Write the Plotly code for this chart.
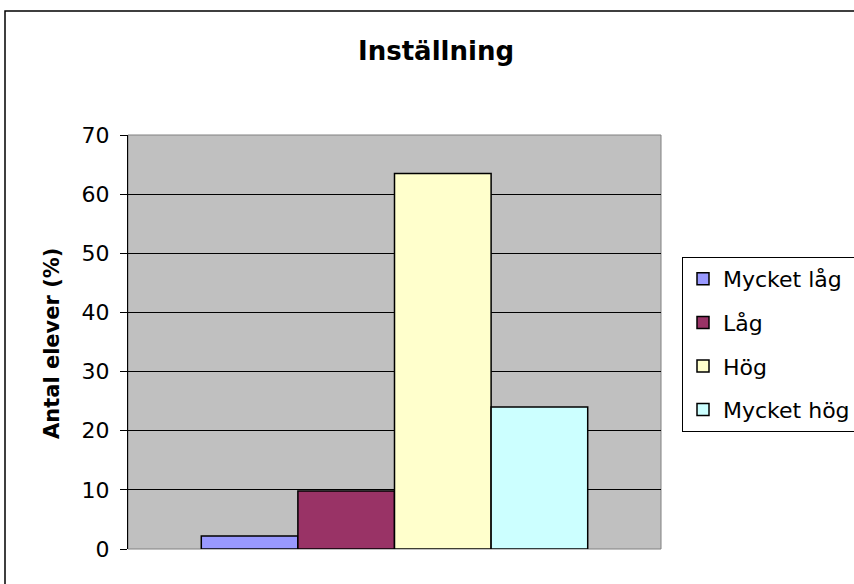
import plotly.graph_objects as go

# Attitude survey: share of pupils per level (%)
levels = ["Mycket låg", "Låg", "Hög", "Mycket hög"]
shares = [2.2, 9.8, 63.5, 24.0]
colors = ["#9999FF", "#993366", "#FFFFCC", "#CCFFFF"]
y_ticks = [0, 10, 20, 30, 40, 50, 60, 70]

FONT = "DejaVu Sans"
W, H = 854, 584
L, R, T, B = 128, 193, 135, 35
pw, ph = W - L - R, H - T - B


def px_x(x):
    return (x - L) / pw


def px_y(y):
    return 1 - (y - T) / ph


fig = go.Figure()
for i, (name, val, col) in enumerate(zip(levels, shares, colors)):
    fig.add_trace(go.Bar(
        x=[0], y=[val], name=name, legendgroup=f"g{i}",
        marker=dict(color=col, line=dict(color="black", width=1.5)),
    ))

fig.update_layout(
    width=W, height=H,
    margin=dict(l=L, r=R, t=T, b=B, pad=0, autoexpand=False),
    paper_bgcolor="white", plot_bgcolor="#C0C0C0",
    barmode="group", bargap=0.275, bargroupgap=0,
    font=dict(family=FONT, color="black", size=22),
    showlegend=True,
    legend=dict(
        x=px_x(682), y=px_y(257), xanchor="left", yanchor="top",
        bordercolor="black", borderwidth=1, bgcolor="white",
        font=dict(family=FONT, size=22, color="black"),
        tracegroupgap=12, traceorder="grouped",
    ),
    xaxis=dict(range=[-0.5, 0.5], showticklabels=False, showgrid=False,
               zeroline=False, ticks="", showline=False, fixedrange=True),
    yaxis=dict(range=[0, 70], tickvals=y_ticks, ticktext=[str(v) for v in y_ticks],
               showgrid=True, gridcolor="black", gridwidth=1, zeroline=False,
               showline=True, linecolor="black", linewidth=1,
               ticks="outside", ticklen=7, tickcolor="black", tickwidth=1,
               ticklabelstandoff=6,
               tickfont=dict(family=FONT, size=22, color="black")),
)

# plot area frame
fig.add_shape(type="rect", xref="paper", yref="paper", x0=0, x1=1, y0=0, y1=1,
              line=dict(color="#808080", width=1), layer="between")
# chart area frame
fig.add_shape(type="rect", xref="paper", yref="paper",
              x0=px_x(5), x1=px_x(870), y0=px_y(600), y1=px_y(11),
              line=dict(color="black", width=1.5), fillcolor="rgba(0,0,0,0)")

fig.add_annotation(text="<b>Inställning</b>", xref="paper", yref="paper",
                   x=px_x(436), y=px_y(51), xanchor="center", yanchor="middle",
                   showarrow=False, font=dict(family=FONT, size=26, color="black"))
fig.add_annotation(text="<b>Antal elever (%)</b>", xref="paper", yref="paper",
                   x=px_x(52), y=px_y(344), xanchor="center", yanchor="middle",
                   textangle=-90, showarrow=False,
                   font=dict(family=FONT, size=21, color="black"))

fig.write_html("out.html")
